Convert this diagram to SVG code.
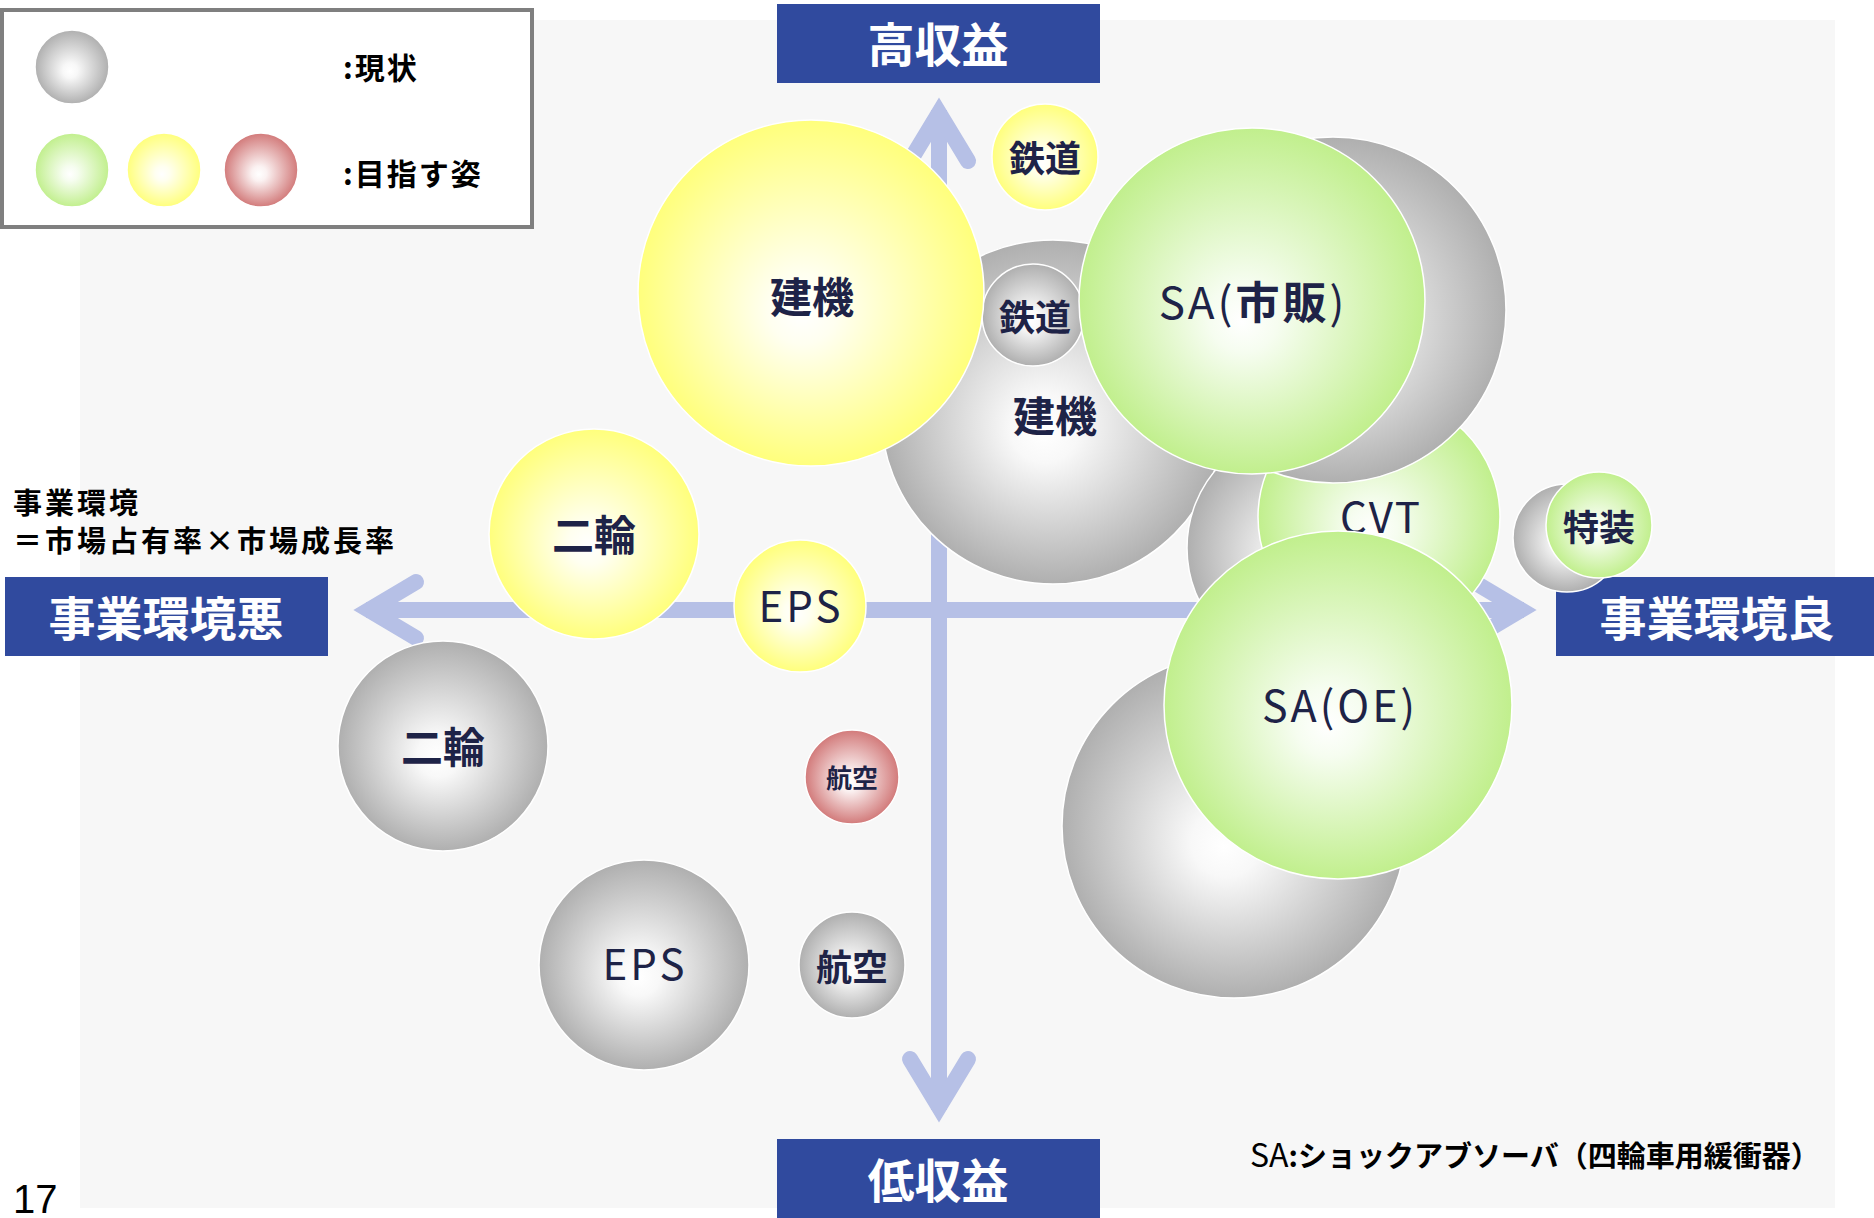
<svg xmlns="http://www.w3.org/2000/svg" width="1874" height="1218" viewBox="0 0 1874 1218">
<defs>
<radialGradient id="gGray" cx="0.5" cy="0.5" r="0.5" fx="0.47" fy="0.56">
<stop offset="0" stop-color="#ffffff"/><stop offset="0.2" stop-color="#f8f8f8"/><stop offset="1" stop-color="#afafaf"/>
</radialGradient>
<radialGradient id="gGreen" cx="0.5" cy="0.5" r="0.5" fx="0.47" fy="0.56">
<stop offset="0" stop-color="#ffffff"/><stop offset="0.2" stop-color="#f6fdf0"/><stop offset="1" stop-color="#c1ef8d"/>
</radialGradient>
<radialGradient id="gYellow" cx="0.5" cy="0.5" r="0.5" fx="0.47" fy="0.56">
<stop offset="0" stop-color="#ffffff"/><stop offset="0.2" stop-color="#fffff0"/><stop offset="1" stop-color="#ffff7c"/>
</radialGradient>
<radialGradient id="gRed" cx="0.5" cy="0.5" r="0.5" fx="0.47" fy="0.56">
<stop offset="0" stop-color="#ffffff"/><stop offset="0.2" stop-color="#fbf2f2"/><stop offset="1" stop-color="#d27a7a"/>
</radialGradient>
</defs>
<style>
text{font-family:"Noto Sans CJK JP","Noto Sans",sans-serif}
.lbl{fill:#1e2347;text-anchor:middle}
.b{font-weight:bold}
.n{font-weight:normal}
.ls{letter-spacing:3px}
.bub{stroke:#ffffff;stroke-width:1.5}
.gray{fill:url(#gGray)}
.green{fill:url(#gGreen)}
.yellow{fill:url(#gYellow)}
.red{fill:url(#gRed)}
.axis{stroke:#b6c0e6;stroke-width:16;fill:none}
.head{stroke:#b6c0e6;stroke-width:16;fill:none;stroke-linecap:round;stroke-linejoin:miter;stroke-miterlimit:6}
.box{fill:#304a9e}
.boxt{fill:#ffffff;font-size:47px;font-weight:bold;text-anchor:middle}
.blk{fill:#000000;font-weight:bold}
</style>

<rect id="panel" x="80" y="20" width="1755" height="1188" fill="#f7f7f7"/>

<g id="connectors">
<line class="axis" x1="939" y1="110" x2="939" y2="1110"/>
<polyline class="head" points="910,161 939,113 968,161"/>
<polyline class="head" points="910,1059 939,1107 968,1059"/>
<line class="axis" x1="366" y1="610" x2="1524" y2="610"/>
<polyline class="head" points="416,582 369,610 416,638"/>
<polyline class="head" points="1474,582 1521,610 1474,638"/>
</g>

<g id="box-high"><rect class="box" x="777" y="4" width="323" height="79"/><text class="boxt" x="938" y="62">高収益</text></g>
<g id="box-low"><rect class="box" x="777" y="1139" width="323" height="79"/><text class="boxt" x="938" y="1198">低収益</text></g>
<g id="box-bad"><rect class="box" x="5" y="577" width="323" height="79"/><text class="boxt" x="166" y="636">事業環境悪</text></g>
<g id="box-good"><rect class="box" x="1556" y="577" width="318" height="79"/><text class="boxt" x="1717" y="636">事業環境良</text></g>

<g id="now-kenki"><circle class="bub gray" cx="1053" cy="412" r="172"/><text class="lbl b" x="1055" y="432" font-size="42">建機</text></g>
<g id="now-tetsudo"><circle class="bub gray" cx="1033" cy="315" r="51"/><text class="lbl b" x="1035" y="331" font-size="36">鉄道</text></g>
<g id="goal-kenki"><circle class="bub yellow" cx="811" cy="293" r="173"/><text class="lbl b" x="812" y="313" font-size="42">建機</text></g>
<g id="goal-tetsudo"><circle class="bub yellow" cx="1045" cy="157" r="53"/><text class="lbl b" x="1045" y="172" font-size="36">鉄道</text></g>
<g id="now-cvt"><circle class="bub gray" cx="1308" cy="548" r="121"/></g>
<g id="goal-cvt"><circle class="bub green" cx="1379" cy="517" r="121"/><text class="lbl n" x="1381" y="533" font-size="42" style="letter-spacing:2px">CVT</text></g>
<g id="now-sa-ichihan"><circle class="bub gray" cx="1333" cy="310" r="173"/></g>
<g id="goal-sa-ichihan"><circle class="bub green" cx="1252" cy="301" r="173"/><text class="lbl ls" x="1253" y="319" font-size="44"><tspan class="n">SA(</tspan><tspan class="b">市販</tspan><tspan class="n">)</tspan></text></g>
<g id="now-sa-oe"><circle class="bub gray" cx="1234" cy="826" r="172"/></g>
<g id="goal-sa-oe"><circle class="bub green" cx="1338" cy="705" r="174"/><text class="lbl n ls" x="1340" y="722" font-size="43">SA(OE)</text></g>
<g id="now-tokuso"><circle class="bub gray" cx="1567" cy="538" r="54"/></g>
<g id="goal-tokuso"><circle class="bub green" cx="1599" cy="525" r="53"/><text class="lbl b" x="1599" y="541" font-size="36">特装</text></g>
<g id="now-nirin"><circle class="bub gray" cx="443" cy="746" r="105"/><text class="lbl b" x="443" y="763" font-size="42">二輪</text></g>
<g id="goal-nirin"><circle class="bub yellow" cx="594" cy="534" r="105"/><text class="lbl b" x="594" y="551" font-size="42">二輪</text></g>
<g id="goal-eps"><circle class="bub yellow" cx="800" cy="606" r="66"/><text class="lbl n ls" x="801" y="622" font-size="42">EPS</text></g>
<g id="now-eps"><circle class="bub gray" cx="644" cy="965" r="105"/><text class="lbl n ls" x="645" y="980" font-size="42">EPS</text></g>
<g id="goal-koku"><circle class="bub red" cx="852" cy="777" r="47"/><text class="lbl b" x="852" y="788" font-size="26">航空</text></g>
<g id="now-koku"><circle class="bub gray" cx="852" cy="965" r="53"/><text class="lbl b" x="852" y="981" font-size="36">航空</text></g>

<g id="legend">
<rect x="2" y="10" width="530" height="217" fill="#ffffff" stroke="#7f7f7f" stroke-width="4"/>
<circle class="bub gray" cx="72" cy="67" r="37"/>
<circle class="bub green" cx="72" cy="170" r="37"/>
<circle class="bub yellow" cx="164" cy="170" r="37"/>
<circle class="bub red" cx="261" cy="170" r="37"/>
<text class="blk" x="343" y="79" font-size="30" style="letter-spacing:2px">:現状</text>
<text class="blk" x="343" y="185" font-size="30" style="letter-spacing:2px">:目指す姿</text>
</g>

<g id="notes">
<text class="blk" x="13" y="514" font-size="29" style="letter-spacing:3px">事業環境</text>
<text class="blk" x="13" y="552" font-size="29" style="letter-spacing:3px">＝市場占有率×市場成長率</text>
<text class="blk" x="1250" y="1167" font-size="29"><tspan font-weight="normal" font-size="32">SA</tspan>:ショックアブソーバ（四輪車用緩衝器）</text>
<text x="13" y="1213" font-size="40" fill="#000000" style="font-family:'Liberation Sans',Arial,sans-serif">17</text>
</g>
</svg>
